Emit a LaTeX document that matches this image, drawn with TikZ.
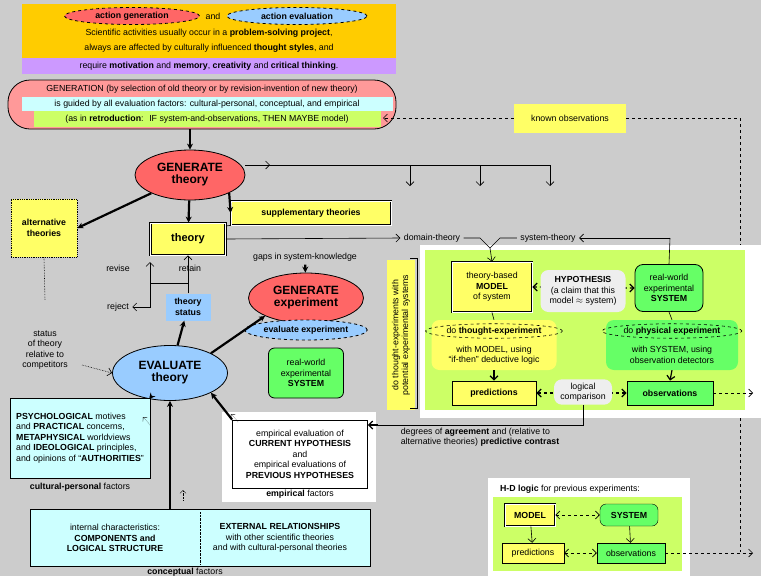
\documentclass[tikz,border=0pt]{standalone}
\usepackage{fontspec}
\setmainfont{Liberation Sans}
\usetikzlibrary{shapes.geometric,arrows.meta,calc}
\definecolor{bg}{HTML}{CCCCCC}
\definecolor{gold}{HTML}{FFCC00}
\definecolor{lav}{HTML}{CC99FF}
\definecolor{pinkx}{HTML}{FF9999}
\definecolor{redx}{HTML}{FF6666}
\definecolor{bluex}{HTML}{99CCFF}
\definecolor{cyanx}{HTML}{CCFFFF}
\definecolor{limex}{HTML}{CCFF66}
\definecolor{yelx}{HTML}{FFFF66}
\definecolor{grnx}{HTML}{66FF66}
\definecolor{grayx}{HTML}{EEEEEE}
\begin{document}
\begin{tikzpicture}[x=1pt,y=-1pt,font=\fontsize{8.8}{10.5}\selectfont,
 box/.style={draw,thick,align=center,inner sep=2pt},
 ell/.style={ellipse,draw,thick,align=center,inner sep=1pt},
 arr/.style={-{Stealth[length=6pt,width=6pt]},line width=2.2pt},
 thin/.style={-{Straight Barb[length=4pt]},semithick},
 dot/.style={dashed,semithick},
 big/.style={font=\fontsize{12}{14}\selectfont\bfseries}]
\fill[bg] (0,0) rectangle (761,576);
\useasboundingbox (0,0) rectangle (761,576);
% top block
\fill[gold] (22,4) rectangle (396,58);
\fill[lav] (22,58) rectangle (396,74);
\node[ell,dashed,fill=redx,minimum width=135,minimum height=17] (ag) at (132,16) {\textbf{action generation}};
\node (and) at (213,16) {and};
\node[ell,dashed,fill=bluex,minimum width=140,minimum height=17] (ae) at (297,16) {\textbf{action evaluation}};
\node (t1) at (209,33) {Scientific activities usually occur in a \textbf{problem-solving project},};
\node (t2) at (209,48) {always are affected by culturally influenced \textbf{thought styles}, and};
\node (t3) at (209,66) {require \textbf{motivation} and \textbf{memory}, \textbf{creativity} and \textbf{critical thinking}.};
% generation
\draw[thick,fill=pinkx,rounded corners=22] (8,80) rectangle (396,129);
\node (g1) at (202,89) {GENERATION (by selection of old theory or by revision-invention of new theory)};
\fill[cyanx] (22,97) rectangle (393,111);
\node (g2) at (207,104) {is guided by all evaluation factors: cultural-personal, conceptual, and empirical};
\fill[limex] (34,111) rectangle (381,127);
\node (g3) at (207,119) {(as in \textbf{retroduction}:\; IF system-and-observations, THEN MAYBE model)};
\coordinate (gb) at (190,129);
\node[ell,fill=redx,minimum width=110,minimum height=50,big] (gt) at (190,175) {GENERATE\\[-2pt]theory};
\draw[arr] (gb) -- (gt);
% known observations
\node[fill=yelx,minimum width=112,minimum height=29] (ko) at (570,118) {known observations};
\draw[dot,-{Straight Barb[length=4pt]}] (ko.west) -- (383,118);
\draw[dot] (ko.east) -- (740,118) -- (740,552);
% line right from GT
\coordinate (r1) at (550,165);
\draw[semithick] (gt.east|-0,165) -- (r1);
\draw[thin] (250,165) -- (270,165);
\foreach \x in {410,480,550}{\draw[thin] (\x,165) -- (\x,186);}
% alternative theories
\node[box,densely dotted,fill=yelx,minimum width=66,minimum height=58] (alt) at (44,228) {\textbf{alternative}\\\textbf{theories}};
\node[draw,double,thick,fill=yelx,minimum width=75,minimum height=32,font=\fontsize{11}{13}\selectfont\bfseries] (th) at (188,239) {theory};
\node[draw,double,thick,fill=yelx,minimum width=160,minimum height=24] (sup) at (311,213) {\textbf{supplementary theories}};
\draw[semithick] (th.east|-0,226) -- (sup.south west);
\draw[arr] (gt) -- (alt.east);
\draw[arr] (gt) -- (th);
\draw[arr] (gt.south east) -- (sup.west);
% domain / system theory
\node (dt) at (432,238) {domain-theory};
\node (stt) at (548,238) {system-theory};
\draw[thin] (th.east) -- (dt.west);
% green panel
\fill[white] (420,245) rectangle (761,418);
\fill[limex] (425,250) rectangle (745,410);
\node[fill=yelx,align=center,minimum width=150,minimum height=28,inner sep=1pt,rotate=90,font=\fontsize{8.8}{9.8}\selectfont] (vt) at (401,335) {do thought-experiments with\\potential experimental systems};
\draw[semithick] (410,258) -- (417,258) -- (417,408) -- (410,408);
\node[draw,double,thick,fill=yelx,minimum width=80,minimum height=50,align=center] (mod) at (492,287) {theory-based\\\textbf{MODEL}\\of system};
\node[draw,rounded corners=8,thick,fill=grnx,minimum width=68,minimum height=47,align=center] (sys) at (669,288) {real-world\\experimental\\\textbf{SYSTEM}};
\draw[dot,line width=1.2pt,{Straight Barb[length=4pt]}-{Straight Barb[length=4pt]}] (mod.east) -- (sys.west);
\node[fill=grayx,rounded corners=8,minimum width=85,minimum height=42,align=center] (hyp) at (583,291) {\textbf{HYPOTHESIS}\\(a claim that this\\model $\approx$ system)};
\draw[semithick] (dt.east) -- (480,238) -- (490,248);
\draw[semithick] (stt.west) -- (500,238) -- (490,248);
\draw[thin] (490,248) -- (mod.north);
\draw[semithick] (sys.north) -- (670,238);
\draw[thin] (670,238) -- (stt.east);
\node[fill=yelx,rounded corners=8,minimum width=125,minimum height=50] (te) at (494,345) {};
\node[align=center] (tet) at (494,355) {with MODEL, using\\``if-then'' deductive logic};
\node[ell,dashed,semithick,minimum width=120,minimum height=14] (tee) at (494,331) {do \textbf{thought-experiment}};
\node[fill=grnx,rounded corners=8,minimum width=132,minimum height=50] (pe) at (672,345) {};
\node[align=center] (pet) at (672,355) {with SYSTEM, using\\observation detectors};
\node[ell,dashed,semithick,minimum width=128,minimum height=14] (pee) at (672,331) {do \textbf{physical experiment}};
\draw[semithick] (mod.south) -- (te.north);
\draw[semithick] (sys.south) -- (pe.north);
\node[box,fill=yelx,minimum width=84,minimum height=24] (pr) at (494,393) {\textbf{predictions}};
\node[box,fill=grnx,minimum width=86,minimum height=24] (ob) at (670,393) {\textbf{observations}};
\draw[dot,line width=1.2pt,{Straight Barb[length=4pt]}-{Straight Barb[length=4pt]}] (pr.east) -- (ob.west);
\node[fill=grayx,rounded corners=8,minimum width=58,minimum height=24,align=center] (lc) at (583,392) {logical\\comparison};
\draw[thin,line width=1.2pt] (te.south) -- (pr.north);
\draw[thin,line width=1.2pt] (pe.south) -- (ob.north);
\draw[dot,-{Straight Barb[length=4pt]}] (ob.east) -- (753,393);
% generate experiment
\node (gap) at (305,257) {gaps in system-knowledge};
\node[ell,fill=redx,minimum width=115,minimum height=50,big] (ge) at (306,298) {GENERATE\\[-2pt]experiment};
\draw[arr] (gap) -- (ge);
\node[ell,dashed,fill=bluex,minimum width=110,minimum height=20] (ee) at (306,330) {\textbf{evaluate experiment}};
\node[draw,thick,rounded corners=6,fill=grnx,minimum width=75,minimum height=50,align=center] (rw) at (306,373) {real-world\\experimental\\\textbf{SYSTEM}};
% theory status
\node[fill=bluex,minimum width=45,minimum height=27,align=center] (ts) at (188,307) {\textbf{theory}\\\textbf{status}};
\node (rev) at (118,268) {revise};
\node (ret) at (190,268) {retain};
\node (rej) at (118,307) {reject};
\draw[semithick] (ts.north) -- (188,283) -- (150,283);
\draw[thin] (188,283) -- (th.south);
\draw[thin] (150,283) -- (150,262);
\draw[thin] (150,283) -- (150,307) -- (rej.east);
\node[ell,fill=bluex,minimum width=115,minimum height=55,big] (ev) at (170,373) {EVALUATE\\[-2pt]theory};
\draw[arr] (ev) -- (ts);
\draw[arr] (ev.north east) -- (ge.south west);
\node[align=center] (st) at (45,350) {status\\of theory\\relative to\\competitors};
\draw[densely dotted,semithick] (alt.south) -- (45,300);
\draw[densely dotted,-{Straight Barb[length=4pt]},semithick] (82,365) -- (ev.west);
% cultural
\node[box,fill=cyanx,minimum width=140,minimum height=80,align=left] (cp) at (80,438) {\textbf{PSYCHOLOGICAL} motives\\and \textbf{PRACTICAL} concerns,\\\textbf{METAPHYSICAL} worldviews\\and \textbf{IDEOLOGICAL} principles,\\and opinions of ``\textbf{AUTHORITIES}''};
\node (cpl) at (80,487) {\textbf{cultural-personal} factors};
\draw[arr] (cp.north east) -- (ev);
% empirical
\fill[white] (222,412) rectangle (376,502);
\node[box,minimum width=135,minimum height=68,align=center] (em) at (300,454) {empirical evaluation of\\\textbf{CURRENT HYPOTHESIS}\\and\\empirical evaluations of\\\textbf{PREVIOUS HYPOTHESES}};
\node (eml) at (300,494) {\textbf{empirical} factors};
\draw[arr] (em.north west) -- (ev.south east);
\node[align=left] (dg) at (480,437) {degrees of \textbf{agreement} and (relative to\\alternative theories) \textbf{predictive contrast}};
\draw[semithick] (lc.south) -- (583,425) -- (378,425);
\draw[thin,line width=1.2pt] (378,425) -- (em.east|-0,425);
% conceptual
\node[box,fill=cyanx,minimum width=340,minimum height=57] (cc) at (200,538) {};
\node[align=center] (cc1) at (115,538) {internal characteristics:\\\textbf{COMPONENTS and}\\\textbf{LOGICAL STRUCTURE}};
\node[align=center] (cc2) at (280,538) {\textbf{EXTERNAL RELATIONSHIPS}\\with other scientific theories\\and with cultural-personal theories};
\draw[densely dotted] (200,512) -- (200,565);
\node (ccl) at (185,572) {\textbf{conceptual} factors};
\draw[arr] (170,509) -- (ev.south);
\draw[densely dotted,-{Straight Barb[length=3pt]}] (183,500) -- (183,490);
\draw[densely dotted,-{Straight Barb[length=3pt]}] (150,425) -- (143,417);
\draw[densely dotted,-{Straight Barb[length=3pt]}] (238,422) -- (231,414);
% H-D
\fill[white] (488,478) rectangle (690,576);
\node (hd) at (570,489) {\textbf{H-D logic} for previous experiments:};
\fill[limex] (493,497) rectangle (682,571);
\node[draw,double,thick,fill=yelx,minimum width=50,minimum height=22] (m2) at (530,515) {\textbf{MODEL}};
\node[draw,rounded corners=6,fill=grnx,minimum width=58,minimum height=22] (s2) at (629,515) {\textbf{SYSTEM}};
\node[draw,fill=yelx,minimum width=62,minimum height=20] (p2) at (533,553) {predictions};
\node[draw,fill=grnx,minimum width=68,minimum height=20] (o2) at (631,553) {observations};
\draw[dot,{Straight Barb[length=4pt]}-{Straight Barb[length=4pt]}] (m2) -- (s2);
\draw[dot,{Straight Barb[length=4pt]}-{Straight Barb[length=4pt]}] (p2) -- (o2);
\draw[thin] (m2) -- (p2);
\draw[thin] (s2) -- (o2);
\draw[dot,-{Straight Barb[length=4pt]}] (o2.east) -- (753,553);
\end{tikzpicture}
\end{document}
